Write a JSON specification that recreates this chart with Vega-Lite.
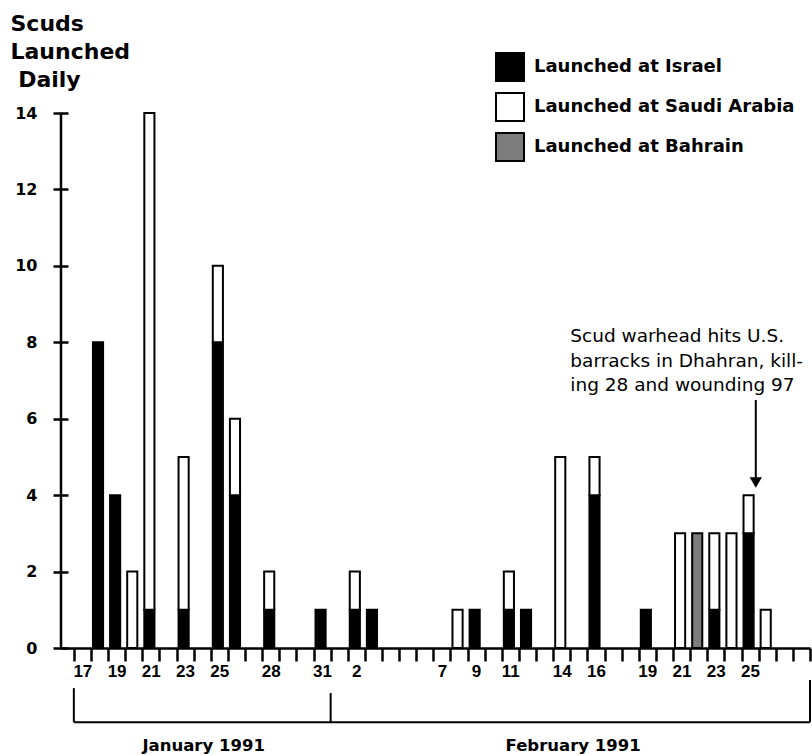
{
  "$schema": "https://vega.github.io/schema/vega-lite/v6.json",
  "width": 749,
  "height": 535,
  "autosize": {"type": "none"},
  "padding": {"left": 61, "top": 113, "right": 2, "bottom": 107},
  "background": "white",
  "config": {"view": {"stroke": null}, "font": "DejaVu Sans"},
  "datasets": {
    "scuds": [
      {"date": "1991/01/18", "target": "Launched at Israel", "count": 8},
      {"date": "1991/01/19", "target": "Launched at Israel", "count": 4},
      {"date": "1991/01/20", "target": "Launched at Saudi Arabia", "count": 2},
      {"date": "1991/01/21", "target": "Launched at Israel", "count": 1},
      {"date": "1991/01/21", "target": "Launched at Saudi Arabia", "count": 13},
      {"date": "1991/01/23", "target": "Launched at Israel", "count": 1},
      {"date": "1991/01/23", "target": "Launched at Saudi Arabia", "count": 4},
      {"date": "1991/01/25", "target": "Launched at Israel", "count": 8},
      {"date": "1991/01/25", "target": "Launched at Saudi Arabia", "count": 2},
      {"date": "1991/01/26", "target": "Launched at Israel", "count": 4},
      {"date": "1991/01/26", "target": "Launched at Saudi Arabia", "count": 2},
      {"date": "1991/01/28", "target": "Launched at Israel", "count": 1},
      {"date": "1991/01/28", "target": "Launched at Saudi Arabia", "count": 1},
      {"date": "1991/01/31", "target": "Launched at Israel", "count": 1},
      {"date": "1991/02/02", "target": "Launched at Israel", "count": 1},
      {"date": "1991/02/02", "target": "Launched at Saudi Arabia", "count": 1},
      {"date": "1991/02/03", "target": "Launched at Israel", "count": 1},
      {"date": "1991/02/08", "target": "Launched at Saudi Arabia", "count": 1},
      {"date": "1991/02/09", "target": "Launched at Israel", "count": 1},
      {"date": "1991/02/11", "target": "Launched at Israel", "count": 1},
      {"date": "1991/02/11", "target": "Launched at Saudi Arabia", "count": 1},
      {"date": "1991/02/12", "target": "Launched at Israel", "count": 1},
      {"date": "1991/02/14", "target": "Launched at Saudi Arabia", "count": 5},
      {"date": "1991/02/16", "target": "Launched at Israel", "count": 4},
      {"date": "1991/02/16", "target": "Launched at Saudi Arabia", "count": 1},
      {"date": "1991/02/19", "target": "Launched at Israel", "count": 1},
      {"date": "1991/02/21", "target": "Launched at Saudi Arabia", "count": 3},
      {"date": "1991/02/22", "target": "Launched at Bahrain", "count": 3},
      {"date": "1991/02/23", "target": "Launched at Israel", "count": 1},
      {"date": "1991/02/23", "target": "Launched at Saudi Arabia", "count": 2},
      {"date": "1991/02/24", "target": "Launched at Saudi Arabia", "count": 3},
      {"date": "1991/02/25", "target": "Launched at Israel", "count": 3},
      {"date": "1991/02/25", "target": "Launched at Saudi Arabia", "count": 1},
      {"date": "1991/02/26", "target": "Launched at Saudi Arabia", "count": 1}
    ]
  },
  "layer": [
    {
      "data": {"name": "scuds"},
      "mark": {"type": "bar", "stroke": "black", "strokeWidth": 2, "width": {"band": 0.65}, "xOffset": -2},
      "encoding": {
        "x": {
          "field": "date", "timeUnit": "yearmonthdate", "type": "temporal",
          "scale": {"domain": [{"year": 1991, "month": 1, "date": 16, "hours": 6}, {"year": 1991, "month": 3, "date": 1}], "nice": false},
          "axis": {
            "title": null, "grid": false,
            "tickCount": {"interval": "day", "step": 1},
            "labelExpr": "indexof(['01-17','01-19','01-21','01-23','01-25','01-28','01-31','02-02','02-07','02-09','02-11','02-14','02-16','02-19','02-21','02-23','02-25'], timeFormat(datum.value, '%m-%d')) >= 0 ? timeFormat(datum.value, '%-d') : ''",
            "labelOffset": 8.5, "labelOverlap": false, "labelFlush": false, "labelAngle": 0,
            "labelFont": "Liberation Sans", "labelFontSize": 17, "labelFontWeight": "bold", "labelColor": "black", "labelPadding": 2,
            "tickSize": 13, "tickWidth": 2.5, "tickColor": "black",
            "domainColor": "black", "domainWidth": 2.5
          }
        },
        "y": {
          "field": "count", "type": "quantitative", "stack": "zero",
          "scale": {"domain": [0, 14], "nice": false},
          "axis": {
            "title": ["Scuds", "Launched", "\u200b\u00a0Daily"],
            "titleAngle": 0, "titleAlign": "left", "titleBaseline": "alphabetic",
            "titleX": -58, "titleY": -83, "titleFont": "DejaVu Sans", "titleFontSize": 22,
            "titleFontWeight": "bold", "titleLineHeight": 28, "titleColor": "black",
            "values": [0, 2, 4, 6, 8, 10, 12, 14], "domain": false, "offset": -7,
            "tickSize": 15, "tickWidth": 2.5, "tickColor": "black", "grid": false,
            "labelFont": "DejaVu Sans", "labelFontSize": 16, "labelFontWeight": "bold",
            "labelColor": "black", "labelPadding": 16
          }
        },
        "color": {
          "field": "target", "type": "nominal",
          "scale": {"domain": ["Launched at Israel", "Launched at Saudi Arabia", "Launched at Bahrain"], "range": ["#000000", "#ffffff", "#7c7c7c"]},
          "legend": {
            "orient": "none", "legendX": 434, "legendY": -61, "title": null, "padding": 0,
            "symbolType": "square", "symbolSize": 784, "symbolStrokeColor": "black", "symbolStrokeWidth": 2,
            "labelFont": "DejaVu Sans", "labelFontSize": 18, "labelFontWeight": "bold", "labelColor": "black",
            "labelOffset": 9, "rowPadding": 4, "labelLimit": 400
          }
        },
        "order": {"field": "target", "type": "nominal", "sort": "ascending"}
      }
    },
    {
      "data": {"values": [{}]},
      "mark": {"type": "rule", "strokeWidth": 2.5, "color": "black"},
      "encoding": {
        "x": {"datum": {"year": 1991, "month": 1, "date": 16, "hours": 6}, "type": "temporal"},
        "y": {"datum": 0, "type": "quantitative"},
        "y2": {"datum": 14}
      }
    },
    {
      "data": {"values": [{}]},
      "mark": {"type": "text", "align": "left", "baseline": "alphabetic", "font": "DejaVu Sans", "fontSize": 18.5, "lineHeight": 24.5, "color": "black",
        "text": ["Scud warhead hits U.S.", "barracks in Dhahran, kill-", "ing 28 and wounding 97"]},
      "encoding": {
        "x": {"datum": {"year": 1991, "month": 2, "date": 15}, "type": "temporal"},
        "y": {"datum": 8, "type": "quantitative"}
      }
    },
    {
      "data": {"values": [{}]},
      "mark": {"type": "rule", "strokeWidth": 2, "color": "black"},
      "encoding": {
        "x": {"datum": {"year": 1991, "month": 2, "date": 25, "hours": 20}, "type": "temporal"},
        "y": {"datum": 6.49, "type": "quantitative"},
        "y2": {"datum": 4.45}
      }
    },
    {
      "data": {"values": [{}]},
      "mark": {"type": "point", "shape": "triangle-down", "filled": true, "size": 150, "color": "black", "opacity": 1},
      "encoding": {
        "x": {"datum": {"year": 1991, "month": 2, "date": 25, "hours": 20}, "type": "temporal"},
        "y": {"datum": 4.33, "type": "quantitative"}
      }
    },
    {
      "data": {"values": [{}]},
      "mark": {"type": "rule", "strokeWidth": 2, "color": "black"},
      "encoding": {
        "x": {"datum": {"year": 1991, "month": 1, "date": 17}, "type": "temporal"},
        "x2": {"datum": {"year": 1991, "month": 3, "date": 1}},
        "y": {"datum": -1.94, "type": "quantitative"}
      }
    },
    {
      "data": {"values": [{}]},
      "mark": {"type": "rule", "strokeWidth": 2, "color": "black"},
      "encoding": {
        "x": {"datum": {"year": 1991, "month": 1, "date": 17}, "type": "temporal"},
        "y": {"datum": -1.05, "type": "quantitative"},
        "y2": {"datum": -1.94}
      }
    },
    {
      "data": {"values": [{}]},
      "mark": {"type": "rule", "strokeWidth": 2, "color": "black"},
      "encoding": {
        "x": {"datum": {"year": 1991, "month": 2, "date": 1}, "type": "temporal"},
        "y": {"datum": -1.18, "type": "quantitative"},
        "y2": {"datum": -1.94}
      }
    },
    {
      "data": {"values": [{}]},
      "mark": {"type": "rule", "strokeWidth": 2, "color": "black"},
      "encoding": {
        "x": {"datum": {"year": 1991, "month": 3, "date": 1}, "type": "temporal"},
        "y": {"datum": -0.84, "type": "quantitative"},
        "y2": {"datum": -1.94}
      }
    },
    {
      "data": {"values": [{}]},
      "mark": {"type": "text", "align": "center", "baseline": "middle", "font": "DejaVu Sans", "fontSize": 16.5, "fontWeight": "bold", "color": "black", "text": "January 1991"},
      "encoding": {
        "x": {"datum": {"year": 1991, "month": 1, "date": 24, "hours": 14}, "type": "temporal"},
        "y": {"datum": -2.565, "type": "quantitative"}
      }
    },
    {
      "data": {"values": [{}]},
      "mark": {"type": "text", "align": "center", "baseline": "middle", "font": "DejaVu Sans", "fontSize": 16.5, "fontWeight": "bold", "color": "black", "text": "February 1991"},
      "encoding": {
        "x": {"datum": {"year": 1991, "month": 2, "date": 15, "hours": 4}, "type": "temporal"},
        "y": {"datum": -2.565, "type": "quantitative"}
      }
    }
  ]
}
